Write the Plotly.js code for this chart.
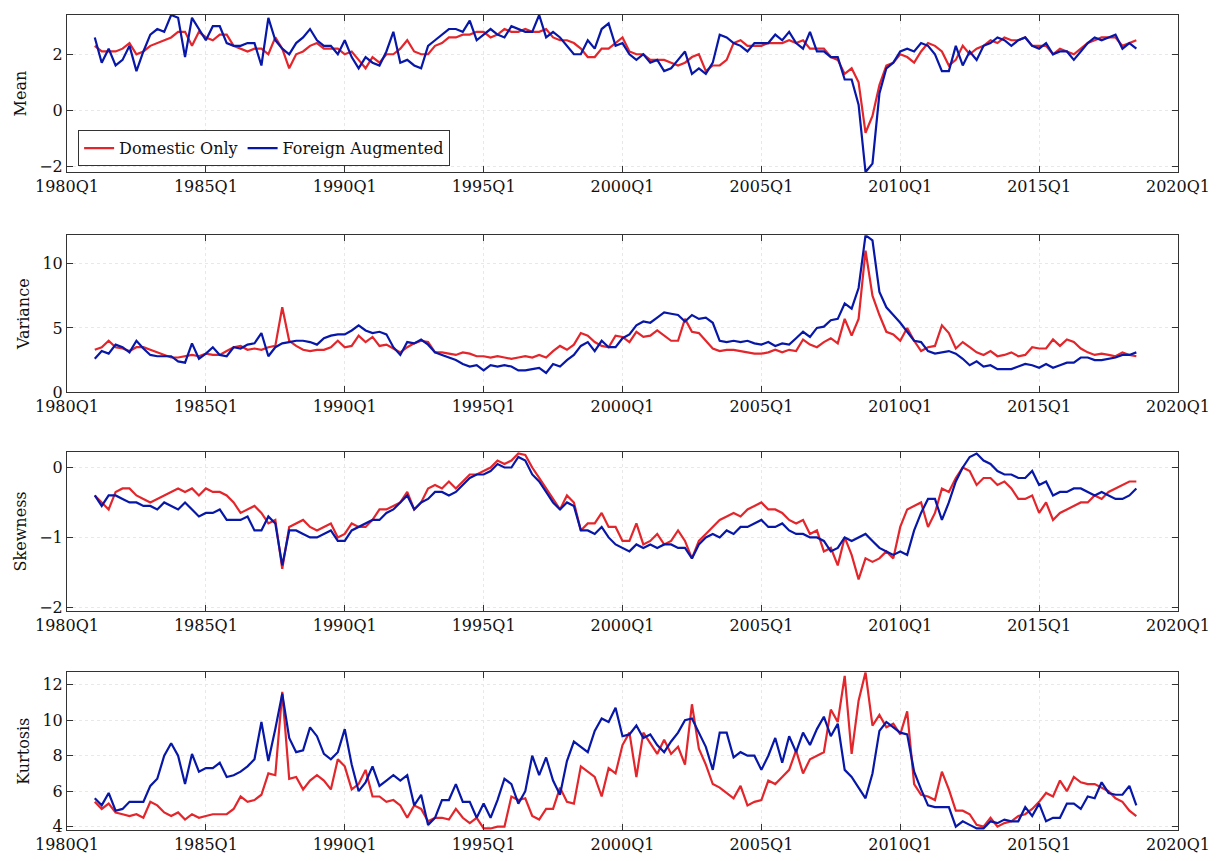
<!DOCTYPE html>
<html>
<head>
<meta charset="utf-8">
<script src="https://cdn.plot.ly/plotly-3.0.1.min.js"></script>
<style>body{margin:0;background:#fff}</style>
</head>
<body>
<div id="chart" style="width:1217px;height:861px"></div>
<script>
// quarterly data, 1981Q1 .. 2018Q3
var startYear = 1981;

var meanDomestic = [
  2.3,2.1,2.1,2.1, 2.2,2.4,2.0,2.1, 2.3,2.4,2.5,2.6, 2.8,2.8,2.3,2.8, 2.6,2.5,2.7,2.7,
  2.3,2.2,2.1,2.2, 2.2,2.0,2.6,2.2, 1.5,2.0,2.1,2.3, 2.4,2.2,2.2,2.2, 2.0,2.1,1.8,1.5,
  1.9,1.7,2.0,2.0, 2.2,2.5,2.1,2.0, 2.0,2.3,2.4,2.6, 2.6,2.7,2.7,2.8, 2.8,2.6,2.7,2.9,
  2.8,2.8,2.9,2.8, 2.8,2.9,2.6,2.5, 2.5,2.4,2.2,1.9, 1.9,2.2,2.2,2.4, 2.6,2.1,2.0,2.0,
  1.8,1.8,1.8,1.7, 1.6,1.7,1.9,2.0, 1.4,1.6,1.6,1.8, 2.4,2.5,2.3,2.3, 2.3,2.4,2.4,2.4,
  2.5,2.4,2.5,2.2, 2.2,2.2,1.9,1.8, 1.3,1.5,1.0,-0.8, -0.2,0.9,1.6,1.7, 2.0,1.9,1.7,2.1,
  2.4,2.3,2.1,1.6, 1.8,2.3,2.0,2.2, 2.3,2.5,2.4,2.6, 2.5,2.5,2.6,2.3, 2.3,2.3,2.0,2.2,
  2.1,2.0,2.2,2.4, 2.5,2.6,2.6,2.6, 2.3,2.4,2.5
];
var meanForeign = [
  2.6,1.7,2.2,1.6, 1.8,2.3,1.4,2.1, 2.7,2.9,2.8,3.4, 3.3,1.9,3.3,2.9, 2.5,3.0,3.0,2.4,
  2.3,2.3,2.4,2.4, 1.6,3.3,2.5,2.2, 2.0,2.4,2.6,2.9, 2.5,2.3,2.3,2.0, 2.5,1.9,1.5,1.9,
  1.7,1.6,2.1,2.8, 1.7,1.8,1.6,1.5, 2.3,2.5,2.7,2.9, 2.9,2.8,3.2,2.5, 2.7,2.9,2.7,2.6,
  3.0,2.9,2.8,2.8, 3.4,2.6,2.8,2.6, 2.3,2.0,2.0,2.5, 2.2,2.9,3.1,2.3, 2.4,2.0,1.8,2.0,
  1.7,1.8,1.4,1.5, 1.8,2.1,1.3,1.5, 1.3,1.7,2.7,2.6, 2.4,2.3,2.1,2.4, 2.4,2.4,2.7,2.5,
  2.8,2.4,2.2,2.8, 2.1,2.1,1.9,1.9, 1.1,1.1,0.2,-2.2, -1.9,0.6,1.5,1.7, 2.1,2.2,2.1,2.4,
  2.3,2.0,1.4,1.4, 2.3,1.6,2.1,1.8, 2.3,2.4,2.6,2.5, 2.3,2.5,2.6,2.3, 2.2,2.4,2.0,2.1,
  2.1,1.8,2.1,2.4, 2.6,2.5,2.6,2.7, 2.2,2.4,2.2
];

var varDomestic = [
  3.3,3.5,4.0,3.5, 3.4,3.2,3.5,3.5, 3.3,3.1,2.9,2.7, 2.7,2.8,2.9,2.8, 3.0,2.9,2.9,3.2,
  3.5,3.6,3.3,3.4, 3.3,3.5,3.6,6.6, 4.0,3.6,3.3,3.2, 3.3,3.3,3.5,4.0, 3.5,3.6,4.4,3.9,
  4.3,3.6,3.7,3.4, 3.1,3.5,3.8,4.0, 3.9,3.1,3.1,3.0, 2.9,3.1,3.0,2.8, 2.8,2.7,2.8,2.7,
  2.6,2.7,2.8,2.7, 2.9,2.7,3.2,3.6, 3.3,3.7,4.6,4.4, 3.9,3.6,3.5,4.4, 4.3,3.9,4.7,4.3,
  4.4,4.8,4.4,4.0, 4.0,5.7,4.7,4.6, 4.0,3.4,3.2,3.3, 3.3,3.2,3.1,3.0, 3.0,3.1,3.3,3.1,
  3.3,3.2,4.1,3.7, 3.5,3.9,4.2,3.8, 5.7,4.4,5.7,11.0, 7.5,6.0,4.7,4.5, 4.0,5.0,4.0,3.2,
  3.5,3.6,5.2,4.6, 3.4,3.9,3.5,3.1, 2.9,3.2,2.8,2.9, 3.1,2.8,2.9,3.5, 3.4,3.4,4.1,3.6,
  4.1,3.9,3.4,3.1, 2.9,3.0,2.9,2.8, 3.1,2.9,2.8
];
var varForeign = [
  2.6,3.2,3.0,3.7, 3.5,3.1,4.0,3.4, 2.9,2.8,2.8,2.8, 2.4,2.3,3.8,2.6, 3.0,3.5,2.9,2.8,
  3.5,3.4,3.7,3.8, 4.6,2.8,3.5,3.8, 3.9,4.0,4.0,3.9, 3.7,4.2,4.4,4.5, 4.5,4.8,5.2,4.8,
  4.6,4.7,4.5,3.5, 2.9,3.9,3.8,4.1, 3.7,3.1,2.9,2.7, 2.5,2.2,2.0,2.1, 1.7,2.1,2.0,2.1,
  2.0,1.7,1.7,1.8, 1.9,1.5,2.2,2.0, 2.5,2.9,3.6,3.9, 3.2,4.0,3.5,3.5, 4.2,4.5,5.2,5.5,
  5.4,5.8,6.2,6.1, 6.0,5.5,6.0,5.7, 5.8,5.4,4.0,3.9, 4.0,3.9,4.0,3.8, 3.7,3.9,3.6,3.8,
  3.7,4.2,4.7,4.3, 5.0,5.1,5.6,5.7, 6.9,6.5,8.1,12.2, 11.8,7.8,6.6,6.0, 5.4,4.7,4.0,3.9,
  3.2,3.0,3.1,3.2, 3.0,2.6,2.1,2.4, 2.0,2.1,1.8,1.8, 1.8,2.0,2.2,2.1, 1.9,2.2,1.9,2.1,
  2.3,2.3,2.7,2.7, 2.5,2.5,2.6,2.7, 2.9,2.9,3.1
];

var skewDomestic = [
  -0.4,-0.5,-0.6,-0.35, -0.3,-0.3,-0.4,-0.45, -0.5,-0.45,-0.4,-0.35, -0.3,-0.35,-0.3,-0.4, -0.3,-0.35,-0.35,-0.4,
  -0.5,-0.65,-0.6,-0.55, -0.65,-0.8,-0.75,-1.45, -0.85,-0.8,-0.75,-0.85, -0.9,-0.85,-0.8,-1.0, -0.95,-0.8,-0.85,-0.85,
  -0.75,-0.6,-0.6,-0.55, -0.5,-0.35,-0.6,-0.5, -0.3,-0.25,-0.3,-0.2, -0.3,-0.2,-0.1,-0.1, -0.05,0.0,0.1,0.05,
  0.1,0.2,0.18,0.0, -0.15,-0.3,-0.45,-0.6, -0.4,-0.5,-0.9,-0.8, -0.8,-0.65,-0.85,-0.85, -1.05,-1.05,-0.8,-1.1,
  -1.05,-0.95,-1.1,-1.05, -0.9,-1.05,-1.3,-1.05, -0.95,-0.85,-0.75,-0.7, -0.65,-0.7,-0.6,-0.55, -0.5,-0.6,-0.6,-0.65,
  -0.75,-0.8,-0.75,-0.95, -0.9,-1.2,-1.15,-1.4, -1.0,-1.25,-1.6,-1.3, -1.35,-1.3,-1.2,-1.3, -0.85,-0.6,-0.55,-0.5,
  -0.85,-0.65,-0.3,-0.35, -0.15,0.0,-0.05,-0.25, -0.15,-0.15,-0.25,-0.2, -0.3,-0.45,-0.45,-0.4, -0.65,-0.5,-0.75,-0.65,
  -0.6,-0.55,-0.5,-0.5, -0.4,-0.45,-0.35,-0.3, -0.25,-0.2,-0.2
];
var skewForeign = [
  -0.4,-0.55,-0.4,-0.4, -0.45,-0.5,-0.5,-0.55, -0.55,-0.6,-0.5,-0.55, -0.6,-0.5,-0.6,-0.7, -0.65,-0.65,-0.6,-0.75,
  -0.75,-0.75,-0.7,-0.9, -0.9,-0.7,-0.8,-1.4, -0.9,-0.9,-0.95,-1.0, -1.0,-0.95,-0.9,-1.05, -1.05,-0.9,-0.85,-0.8,
  -0.75,-0.75,-0.65,-0.6, -0.5,-0.4,-0.6,-0.5, -0.45,-0.35,-0.35,-0.4, -0.35,-0.25,-0.15,-0.1, -0.1,-0.05,0.05,0.0,
  0.0,0.15,0.1,-0.1, -0.2,-0.35,-0.5,-0.6, -0.5,-0.55,-0.9,-0.9, -0.95,-0.85,-1.0,-1.1, -1.15,-1.2,-1.1,-1.15,
  -1.1,-1.15,-1.1,-1.1, -1.15,-1.15,-1.3,-1.1, -1.0,-0.95,-1.0,-0.9, -0.95,-0.85,-0.85,-0.8, -0.75,-0.85,-0.85,-0.8,
  -0.9,-0.95,-0.95,-1.0, -1.0,-1.05,-1.2,-1.15, -1.0,-1.05,-1.0,-0.95, -1.05,-1.15,-1.2,-1.25, -1.2,-1.25,-0.9,-0.65,
  -0.45,-0.45,-0.75,-0.5, -0.2,0.0,0.15,0.2, 0.1,0.05,-0.05,-0.1, -0.1,-0.15,-0.15,-0.05, -0.25,-0.2,-0.4,-0.35,
  -0.35,-0.3,-0.3,-0.35, -0.4,-0.35,-0.4,-0.45, -0.45,-0.4,-0.3
];

var kurtDomestic = [
  5.4,5.0,5.3,4.8, 4.7,4.6,4.7,4.5, 5.4,5.2,4.8,4.6, 4.8,4.4,4.7,4.5, 4.6,4.7,4.7,4.7,
  5.0,5.7,5.4,5.5, 5.8,7.0,6.9,11.6, 6.7,6.8,6.1,6.6, 6.9,6.6,6.1,7.8, 7.4,6.1,6.4,7.2,
  5.7,5.7,5.4,5.5, 5.2,4.5,5.2,5.0, 4.3,4.5,4.5,4.4, 5.0,4.5,4.2,4.5, 3.9,3.9,4.0,4.0,
  5.7,5.5,5.6,4.6, 4.4,5.0,5.0,6.2, 5.4,5.3,7.4,7.1, 6.8,5.7,7.3,7.0, 8.6,9.3,6.8,9.3,
  8.7,8.1,8.9,8.1, 8.5,7.5,10.9,8.4, 7.5,6.4,6.2,5.9, 5.6,6.3,5.2,5.4, 5.5,6.6,6.4,6.8,
  7.2,8.3,7.0,7.8, 8.0,8.2,10.6,9.9, 12.5,8.1,11.1,12.7, 9.7,10.3,9.6,9.8, 9.2,10.5,6.4,5.8,
  5.7,5.5,7.1,6.1, 4.9,4.9,4.7,4.1, 4.0,4.5,4.0,4.2, 4.3,4.6,4.7,5.0, 5.4,5.9,5.7,6.6,
  6.0,6.8,6.5,6.4, 6.4,6.2,6.0,5.6, 5.4,4.9,4.6
];
var kurtForeign = [
  5.6,5.2,5.9,4.9, 5.0,5.4,5.4,5.4, 6.3,6.7,8.0,8.7, 8.0,6.4,8.1,7.1, 7.3,7.3,7.6,6.8,
  6.9,7.1,7.4,7.8, 9.9,7.7,9.5,11.5, 9.0,8.2,8.3,9.6, 9.1,8.1,7.8,8.2, 9.5,7.5,6.0,6.5,
  7.4,6.3,6.6,6.9, 6.6,6.9,5.2,5.8, 4.1,4.5,5.5,5.5, 6.4,5.4,5.4,4.5, 5.3,4.5,5.5,6.7,
  6.4,5.3,6.0,8.0, 6.9,7.9,6.6,5.8, 7.7,8.8,8.5,8.2, 9.4,10.1,9.9,10.7, 9.1,9.2,9.7,9.0,
  9.2,8.6,8.2,8.8, 9.3,10.0,10.1,9.3, 8.5,7.2,9.3,9.3, 7.9,8.2,8.0,8.0, 7.2,8.0,9.0,7.6,
  9.1,8.2,9.3,8.6, 9.5,10.2,9.1,9.8, 7.2,6.8,6.2,5.6, 7.0,9.4,9.9,9.6, 9.3,9.2,7.1,6.1,
  5.2,5.1,5.1,5.1, 4.0,4.3,4.1,3.9, 3.9,4.3,4.2,4.4, 4.3,4.3,5.1,4.6, 5.3,4.3,4.5,4.5,
  5.3,5.3,5.0,5.7, 5.6,6.5,5.9,5.8, 5.8,6.3,5.2
];

var tickYears = [1980, 1985, 1990, 1995, 2000, 2005, 2010, 2015, 2020];
var tickLabels = tickYears.map(function (y) { return y + 'Q1'; });

var quarters = meanDomestic.map(function (v, i) { return startYear + i / 4; });

var red = '#e3262b';
var blue = '#0717a8';
var font = { family: 'DejaVu Serif', size: 16, color: '#111' };

function line(y, color, name, axis, show) {
  return {
    x: quarters, y: y, type: 'scatter', mode: 'lines', name: name,
    line: { color: color, width: 2.2 }, xaxis: 'x' + axis, yaxis: 'y' + axis,
    showlegend: show
  };
}

var data = [
  line(meanDomestic, red, 'Domestic Only', '', true),
  line(meanForeign, blue, 'Foreign Augmented', '', true),
  line(varDomestic, red, 'Domestic Only', '2', false),
  line(varForeign, blue, 'Foreign Augmented', '2', false),
  line(skewDomestic, red, 'Domestic Only', '3', false),
  line(skewForeign, blue, 'Foreign Augmented', '3', false),
  line(kurtDomestic, red, 'Domestic Only', '4', false),
  line(kurtForeign, blue, 'Foreign Augmented', '4', false)
];

function xax(anchor) {
  return {
    range: [1980, 2020], tickvals: tickYears, ticktext: tickLabels,
    showline: true, mirror: 'ticks', linecolor: '#333', linewidth: 1,
    ticks: 'inside', ticklen: 6, tickcolor: '#333',
    showgrid: true, gridcolor: '#e8e8e8', griddash: 'dot',
    zeroline: false, anchor: anchor, tickfont: font
  };
}
function yax(title, range, dtick, domain, anchor) {
  return {
    title: { text: title, font: font, standoff: 8 },
    range: range, dtick: dtick, domain: domain,
    showline: true, mirror: 'ticks', linecolor: '#333', linewidth: 1,
    ticks: 'inside', ticklen: 6, tickcolor: '#333',
    showgrid: true, gridcolor: '#e8e8e8', griddash: 'dot',
    zeroline: false, anchor: anchor, tickfont: font
  };
}

var layout = {
  width: 1217, height: 861,
  margin: { l: 67, r: 39, t: 15, b: 15 },
  paper_bgcolor: '#fff', plot_bgcolor: '#fff',
  font: font,
  xaxis: xax('y'),
  xaxis2: xax('y2'),
  xaxis3: xax('y3'),
  xaxis4: xax('y4'),
  yaxis: yax('Mean', [-2.2, 3.4], 2, [0.811, 1.0], 'x'),
  yaxis2: yax('Variance', [0, 12.2], 5, [0.546, 0.735], 'x2'),
  yaxis3: yax('Skewness', [-2.05, 0.22], 1, [0.283, 0.474], 'x3'),
  yaxis4: yax('Kurtosis', [3.8, 12.7], 2, [0.019, 0.209], 'x4'),
  legend: {
    orientation: 'h', x: 0.01, y: 0.818, xanchor: 'left', yanchor: 'bottom',
    bgcolor: '#fff', bordercolor: '#333', borderwidth: 1,
    font: font, tracegroupgap: 0
  }
};

Plotly.newPlot('chart', data, layout, { displayModeBar: false, staticPlot: true });
</script>
</body>
</html>
